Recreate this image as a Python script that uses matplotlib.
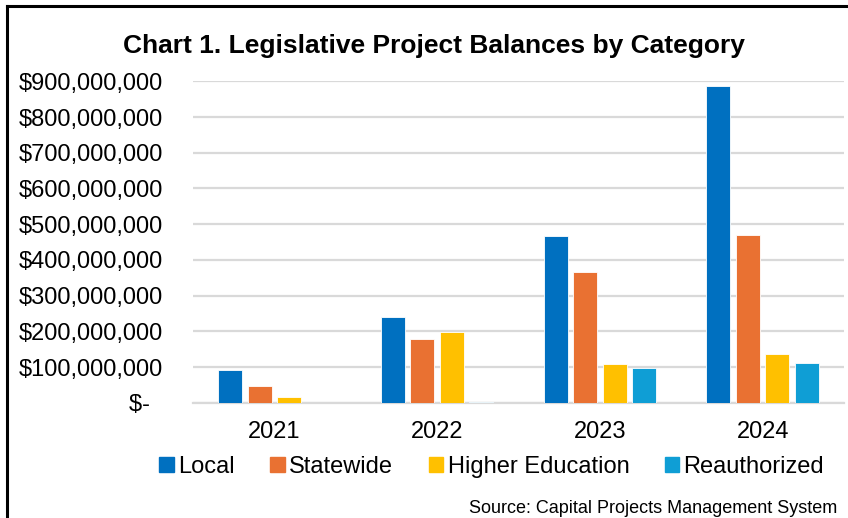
import numpy as np
import matplotlib.pyplot as plt
from matplotlib.ticker import FuncFormatter
from matplotlib.lines import Line2D

years = ["2021", "2022", "2023", "2024"]
series = ["Local", "Statewide", "Higher Education", "Reauthorized"]
local = [92e6, 241e6, 468e6, 888e6]
statewide = [46e6, 179e6, 366e6, 469e6]
higher_ed = [15e6, 199e6, 108e6, 136e6]
reauthorized = [0, 2e6, 96e6, 110e6]
colors = ["#0070C0", "#E97132", "#FFC000", "#0F9ED5"]

plt.rcParams['font.family'] = ['Liberation Sans', 'DejaVu Sans']

fig = plt.figure(figsize=(8.48, 5.18), dpi=100)
ax = fig.add_axes([0.2276, 0.2225, 0.7677, 0.6205])

x = np.arange(len(years))
pitch = 0.181
width = 0.148
values = [local, statewide, higher_ed, reauthorized]
for i, (name, vals) in enumerate(zip(series, values)):
    ax.bar(x + (i - 1.5) * pitch, vals, width, color=colors[i], label=name,
           edgecolor="white", linewidth=0.6, zorder=3)

ax.set_xlim(-0.5, len(years) - 0.5)
ax.set_ylim(0, 900e6)
ax.set_yticks(np.arange(0, 900e6 + 1, 100e6))


def money(v, pos):
    if v == 0:
        return "$-  "
    return "${:,.0f}".format(v)


ax.yaxis.set_major_formatter(FuncFormatter(money))
ax.grid(axis="y", color="#D9D9D9", linewidth=1.6, zorder=0)
ax.set_xticks(x)
ax.set_xticklabels(years)
ax.tick_params(axis="both", length=0, labelsize=17, colors="black")
ax.tick_params(axis="y", pad=21.5)
ax.tick_params(axis="x", pad=13)
for s in ["top", "right", "left"]:
    ax.spines[s].set_visible(False)
ax.spines["bottom"].set_color("#D9D9D9")
ax.spines["bottom"].set_linewidth(1.6)

fig.text(0.512, 0.912, "Chart 1. Legislative Project Balances by Category",
         ha="center", va="center", fontsize=19, fontweight="bold")

handles = [plt.Rectangle((0, 0), 1, 1, color=c) for c in colors]
fig.legend(handles, series, loc="center", bbox_to_anchor=(0.58, 0.098), ncol=4,
           frameon=False, fontsize=17, handlelength=0.6, handleheight=0.6,
           handletextpad=0.2, columnspacing=1.5)

fig.text(0.987, 0.019, "Source: Capital Projects Management System",
         ha="right", va="center", fontsize=13)

# outer border (top and left only)
fig.add_artist(Line2D([0.0088, 0.0088], [0, 0.988], color="black", linewidth=2.2,
                      transform=fig.transFigure))
fig.add_artist(Line2D([0.0088, 1.0], [0.988, 0.988], color="black", linewidth=2.2,
                      transform=fig.transFigure))

fig.savefig("out.png", dpi=100)
